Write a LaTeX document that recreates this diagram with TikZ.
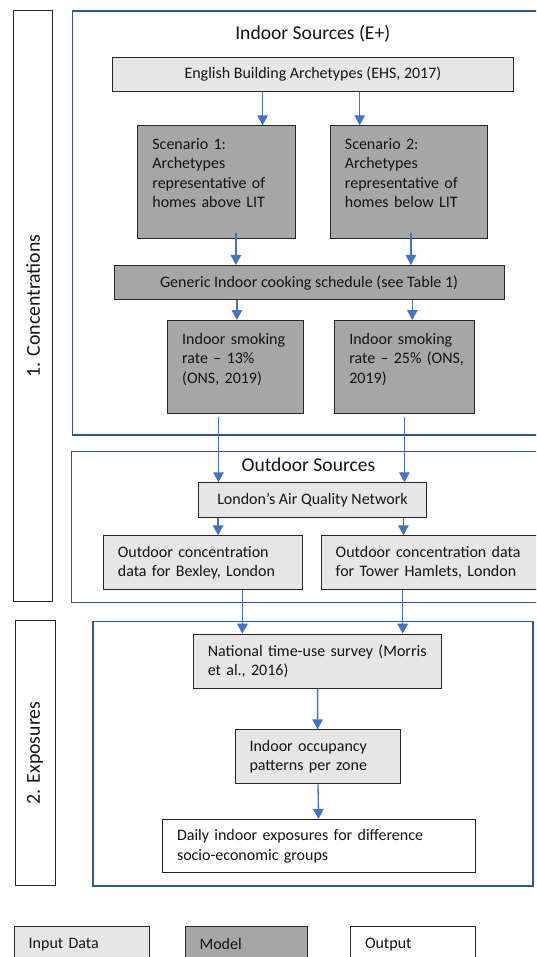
\documentclass[tikz,border=0pt]{standalone}
\usepackage{fontspec}
\setmainfont{Carlito}
\usetikzlibrary{positioning,arrows.meta}
\definecolor{frBlue}{RGB}{47,85,151}
\definecolor{arBlue}{RGB}{68,114,196}
\definecolor{inGray}{RGB}{230,230,230}
\definecolor{mdGray}{RGB}{166,166,166}
\definecolor{edgeDark}{RGB}{38,38,38}
\definecolor{txtDark}{RGB}{20,20,20}
\tikzset{
    base/.style={font=\fontsize{16}{19.5}\selectfont, text=txtDark},
    box/.style={base, rectangle, draw=edgeDark, line width=1pt, anchor=north west,
                inner xsep=14.5pt, inner ysep=0pt},
    input/.style={box, fill=inGray},
    model/.style={box, fill=mdGray},
    output/.style={box, fill=white},
    frame/.style={rectangle, draw=frBlue, line width=1.5pt, anchor=north west, inner sep=0pt},
    tag/.style={rectangle, draw=edgeDark, line width=1pt, fill=white, rotate=90, inner sep=0pt,
                font=\fontsize{19.8}{23}\selectfont, text=txtDark},
    heading/.style={font=\fontsize{19.6}{23}\selectfont, text=txtDark},
    flow/.style={-{Triangle[length=10pt,width=10.5pt]}, line width=1.3pt, draw=arBlue}
}
\begin{document}
\begin{tikzpicture}[x=1pt, y=-1pt]
  \useasboundingbox (0,0) rectangle (536,957);
  \clip (0,0) rectangle (536,957);

  % group frames and side tags
  \node[frame, minimum width=480pt, minimum height=423.9pt] (indoor) at (71.8,10.3) {};
  \node[frame, minimum width=480pt, minimum height=150.8pt] (outdoor) at (70.8,450.7) {};
  \node[frame, minimum width=440pt, minimum height=264.3pt] (exposure) at (92.3,620.7) {};
  \node[tag, minimum width=591.2pt, minimum height=38.6pt] (conc) at (33,305.9) {1. Concentrations};
  \node[tag, minimum width=264.3pt, minimum height=40pt] (expo) at (35,752.9) {2. Exposures};

  % indoor sources
  \node[heading] (indoorT) at (312.8,33.3) {Indoor Sources (E+)};
  \node[input, minimum width=400.7pt, minimum height=34.3pt, align=center] (ehs) at (112.1,56.7)
    {English Building Archetypes (EHS, 2017)};
  \node[model, text width=128.3pt, minimum height=112.4pt, align=left] (sc1) at (137.4,125.3)
    {\strut Scenario 1:\\Archetypes\\representative of\\homes above LIT\\[-5pt]\strut};
  \node[model, text width=128.3pt, minimum height=112.4pt, align=left, right=34.2pt of sc1] (sc2)
    {\strut Scenario 2:\\Archetypes\\representative of\\homes below LIT\\[-5pt]\strut};
  \node[model, minimum width=390.1pt, minimum height=34.3pt, align=center] (cook) at (113.5,265)
    {Generic Indoor cooking schedule (see Table 1)};
  \node[model, text width=107pt, minimum height=92.7pt, align=left] (smk1) at (167.2,320)
    {\strut Indoor smoking\\rate -- 13\%\\(ONS, 2019)\\[-5pt]\strut};
  \node[model, text width=110.5pt, minimum height=92.7pt, align=left, right=30.1pt of smk1] (smk2)
    {\strut Indoor smoking\\\mbox{rate -- 25\% (ONS,}\\2019)\\[-5pt]\strut};

  % outdoor sources
  \node[heading] (outdoorT) at (308.5,465) {Outdoor Sources};
  \node[input, minimum width=228.7pt, minimum height=34.4pt, align=center] (laqn) at (197.6,482.3)
    {London’s Air Quality Network};
  \node[input, text width=170.3pt, minimum height=53.7pt, align=left] (bex) at (102.9,535.3)
    {Outdoor concentration\\data for Bexley, London};
  \node[input, text width=196pt, minimum height=53.7pt, align=left, right=17.5pt of bex] (tow)
    {Outdoor concentration data\\for Tower Hamlets, London};

  % exposures
  \node[input, text width=219.6pt, minimum height=54pt, align=left] (tus) at (192.8,633.7)
    {National time-use survey (Morris\\et al., 2016)};
  \node[input, text width=136.2pt, minimum height=54pt, align=left] (occ) at (234.5,729.3)
    {Indoor occupancy\\patterns per zone};
  \node[output, text width=283.9pt, minimum height=53.3pt, align=left] (daily) at (162,819)
    {Daily indoor exposures for difference\\socio-economic groups};

  % key
  \node[input, text width=106.7pt, minimum height=36pt, align=left] (keyIn) at (13.7,925.7) {Input Data};
  \node[model, text width=93.1pt, minimum height=36pt, align=left] (keyMod) at (184.6,925.7) {Model};
  \node[output, text width=96.2pt, minimum height=36pt, align=left] (keyOut) at (350,925.7) {Output};

  % connectors
  \draw[flow] (ehs.south -| 262.6,0) -- (sc1.north -| 262.6,0);
  \draw[flow] (ehs.south -| 359.7,0) -- (sc2.north -| 359.7,0);
  \draw[flow] ([yshift=6pt]sc1.south -| 235.9,0) -- (cook.north -| 235.9,0);
  \draw[flow] ([yshift=6pt]sc2.south -| 410.9,0) -- (cook.north -| 410.9,0);
  \draw[flow] (cook.south -| 236.9,0) -- (smk1.north -| 236.9,0);
  \draw[flow] (cook.south -| 412.3,0) -- (smk2.north -| 412.3,0);
  \draw[flow] ([yshift=-3pt]smk1.south -| 218.5,0) -- (laqn.north -| 218.5,0);
  \draw[flow] ([yshift=-3pt]smk2.south -| 404.4,0) -- (laqn.north -| 404.4,0);
  \draw[flow] (laqn.south -| 218.1,0) -- (bex.north -| 218.1,0);
  \draw[flow] (laqn.south -| 403.4,0) -- (tow.north -| 403.4,0);
  \draw[flow] (bex.south -| 242.4,0) -- (tus.north -| 242.4,0);
  \draw[flow] (tow.south -| 402.7,0) -- (tus.north -| 402.7,0);
  \draw[flow] (tus) -- (occ);
  \draw[flow] (occ) -- (daily);
\end{tikzpicture}
\end{document}
